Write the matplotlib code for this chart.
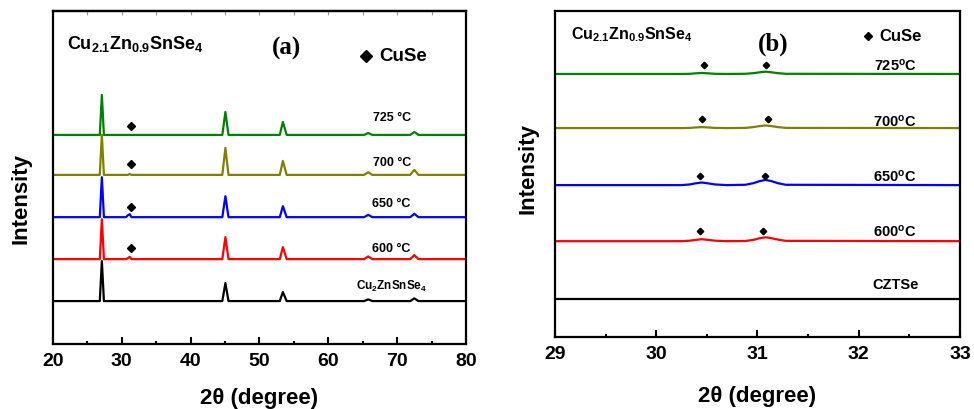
import matplotlib
matplotlib.use("Agg")
import matplotlib.pyplot as plt
import numpy as np
from matplotlib.ticker import MultipleLocator

plt.rcParams['font.family'] = ['Liberation Sans', 'DejaVu Sans']
plt.rcParams['font.weight'] = 'bold'
plt.rcParams['mathtext.fontset'] = 'custom'
plt.rcParams['mathtext.rm'] = 'Liberation Sans:bold'
plt.rcParams['mathtext.it'] = 'Liberation Sans:bold'
plt.rcParams['mathtext.bf'] = 'Liberation Sans:bold'
plt.rcParams['mathtext.default'] = 'rm'

# ---- (a) full scan, 20-80 deg ----
# vertices of each pattern (2theta, counts above baseline, a.u.)
two_theta_a = [20, 26.8, 27.1, 27.4, 30.6, 30.9, 31.15, 31.4, 44.6, 45.05, 45.5,
               52.95, 53.4, 53.95, 65.2, 65.8, 66.4, 71.9, 72.5, 73.1, 80]
czts_a = [0, 0, 12, 0, 0, 0, 0, 0, 0, 5.4, 0, 0, 2.7, 0, 0, 0.5, 0, 0, 0.8, 0, 0]
t600_a = [0, 0, 12, 0, 0, 0.3, 0.7, 0, 0, 6.6, 0, 0, 3.6, 0, 0, 0.8, 0, 0, 1.2, 0, 0]
t650_a = [0, 0, 12, 0, 0, 0.6, 0.9, 0, 0, 6.3, 0, 0, 3.3, 0, 0, 0.7, 0, 0, 1.0, 0, 0]
t700_a = [0, 0, 12, 0, 0, 0, 0.3, 0, 0, 8.1, 0, 0, 4.2, 0, 0, 0.8, 0, 0, 1.5, 0, 0]
t725_a = [0, 0, 12, 0, 0, 0, 0, 0, 0, 6.9, 0, 0, 3.9, 0, 0, 0.6, 0, 0, 0.9, 0, 0]
offsets_a = [12.9, 25.5, 38.1, 50.8, 62.8]
labels_a = ['Cu$_2$ZnSnSe$_4$', '600 °C', '650 °C', '700 °C', '725 °C']
label_y_a = [17.7, 28.8, 42.3, 54.7, 68.2]
cuse_x_a = [31.3, 31.3, 31.3, 31.3]
cuse_y_a = [28.8, 41.1, 54.1, 65.5]

# ---- (b) zoom on the CuSe reflections, 29-33 deg ----
two_theta_b = [29, 30.25, 30.33, 30.39, 30.45, 30.51, 30.58, 30.7, 30.88, 30.96, 31.02,
               31.08, 31.14, 31.2, 31.28, 33]
czts_b = [0] * 16
t600_b = [0, 0, 0.15, 0.4, 0.6, 0.4, 0.15, 0, 0.05, 0.4, 0.9, 1.2, 0.9, 0.5, 0.1, 0]
t650_b = [0, 0, 0.2, 0.55, 0.8, 0.55, 0.2, 0, 0.1, 0.6, 1.2, 1.6, 1.2, 0.6, 0.1, 0]
t700_b = [0, 0, 0.05, 0.2, 0.3, 0.2, 0.05, 0, 0.05, 0.3, 0.6, 0.8, 0.6, 0.3, 0.05, 0]
t725_b = [0, 0, 0.05, 0.2, 0.3, 0.2, 0.05, 0, 0.05, 0.25, 0.5, 0.7, 0.5, 0.25, 0.05, 0]
offsets_b = [11.7, 29.4, 46.6, 64.1, 80.7]
labels_b = ['CZTSe', '600$^{o}$C', '650$^{o}$C', '700$^{o}$C', '725$^{o}$C']
label_y_b = [16.3, 32.5, 49.4, 66.3, 83.7]
cuse_x_b = [[30.43, 31.05], [30.43, 31.07], [30.45, 31.1], [30.47, 31.08]]
cuse_y_b = [32.5, 49.5, 66.9, 83.4]

colors = ['black', '#ff0000', '#0000ff', '#808000', '#008000']

fig = plt.figure(figsize=(9.74, 4.10), dpi=100)
ax1 = fig.add_axes([0.0544, 0.1585, 0.424, 0.812])
ax2 = fig.add_axes([0.5698, 0.1756, 0.4158, 0.795])


def style_axis(ax, major, minor, xlab_pad):
    for sp in ax.spines.values():
        sp.set_linewidth(1.6)
    ax.set_yticks([])
    ax.xaxis.set_major_locator(MultipleLocator(major))
    ax.xaxis.set_minor_locator(MultipleLocator(minor))
    ax.tick_params(axis='x', which='major', direction='in', length=5, width=1.5,
                   labelsize=14, pad=6)
    ax.tick_params(axis='x', which='minor', direction='in', length=2.5, width=1.5)
    for lab in ax.get_xticklabels():
        lab.set_fontweight('bold')
    ax.set_xlabel('2θ (degree)', fontsize=16, fontweight='bold', labelpad=xlab_pad)
    ax.set_ylabel('Intensity', fontsize=16, fontweight='bold')


# panel (a)
series_a = [czts_a, t600_a, t650_a, t700_a, t725_a]
for ys, off, c in zip(series_a, offsets_a, colors):
    ax1.plot(two_theta_a, np.array(ys) + off, color=c, lw=1.6)
for lab, ly in zip(labels_a, label_y_a):
    ax1.text(69.2, ly, lab, ha='center', va='center', fontsize=8.5 if lab.startswith('Cu') else 9,
             fontweight='bold')
ax1.plot(cuse_x_a, cuse_y_a, 'D', color='black', ms=4, ls='none')
ax1.set_xlim(20, 80)
ax1.set_ylim(0, 100)
style_axis(ax1, 10, 5, 13)
ax1.yaxis.set_label_coords(-0.053, 0.44)
top = ax1.secondary_xaxis('top')
top.xaxis.set_major_locator(MultipleLocator(5))
top.tick_params(direction='in', length=3, width=0.8, color='0.6', labeltop=False)
top.spines['top'].set_linewidth(1.6)

ax1.text(0.035, 0.905, 'Cu$_{2.1}$Zn$_{0.9}$SnSe$_4$', transform=ax1.transAxes,
         fontsize=13, fontweight='bold', va='center')
ax1.text(0.565, 0.89, '(a)', transform=ax1.transAxes, fontsize=18, fontweight='bold',
         family='Liberation Serif', ha='center', va='center')
ax1.plot([0.757], [0.866], 'D', color='black', ms=6, transform=ax1.transAxes)
ax1.text(0.79, 0.866, 'CuSe', transform=ax1.transAxes, fontsize=13.5,
         fontweight='bold', va='center')

# panel (b)
series_b = [czts_b, t600_b, t650_b, t700_b, t725_b]
for ys, off, c in zip(series_b, offsets_b, colors):
    ax2.plot(two_theta_b, np.array(ys) + off, color=c, lw=1.6)
for lab, ly in zip(labels_b, label_y_b):
    ax2.text(32.36, ly, lab, ha='center', va='center', fontsize=10.5, fontweight='bold')
for xs, y in zip(cuse_x_b, cuse_y_b):
    ax2.plot(xs, [y] * len(xs), 'D', color='black', ms=3.3, ls='none')
ax2.set_xlim(29, 33)
ax2.set_ylim(0, 100)
style_axis(ax2, 1, 0.5, 16)
ax2.yaxis.set_label_coords(-0.04, 0.52)

ax2.text(0.04, 0.93, 'Cu$_{2.1}$Zn$_{0.9}$SnSe$_4$', transform=ax2.transAxes,
         fontsize=11.5, fontweight='bold', va='center')
ax2.text(0.538, 0.9, '(b)', transform=ax2.transAxes, fontsize=18, fontweight='bold',
         family='Liberation Serif', ha='center', va='center')
ax2.plot([0.772], [0.925], 'D', color='black', ms=3.8, transform=ax2.transAxes)
ax2.text(0.8, 0.925, 'CuSe', transform=ax2.transAxes, fontsize=12,
         fontweight='bold', va='center')

fig.savefig('out.png', dpi=100)
